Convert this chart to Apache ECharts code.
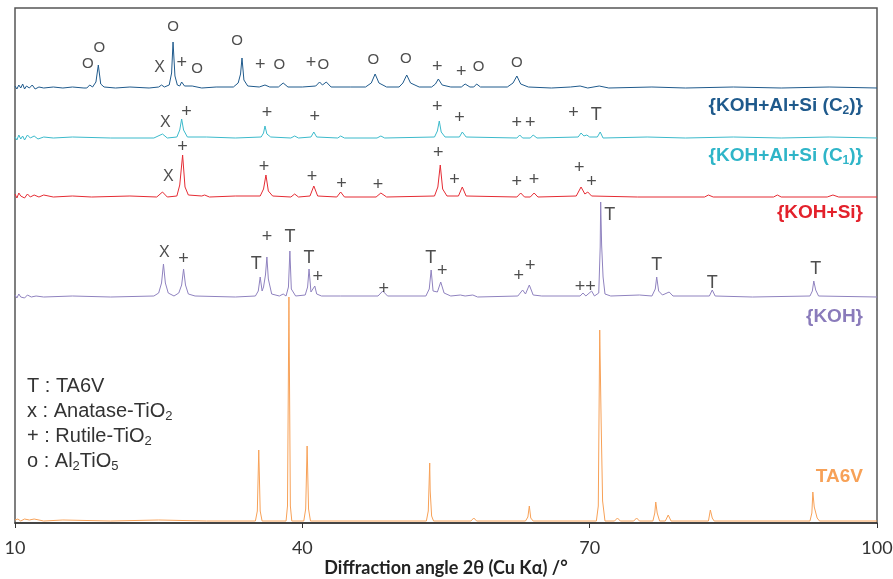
<!DOCTYPE html>
<html>
<head>
<meta charset="utf-8">
<title>XRD</title>
<script src="https://cdn.jsdelivr.net/npm/echarts@6/dist/echarts.min.js"></script>
<style>
    html, body { margin: 0; padding: 0; background: #fff; }
    #xrd { width: 893px; height: 579px; }
</style>
</head>
<body>
<div id="xrd"></div>
<script>
//  x ticks (2θ, °)
var xTicks = [10, 40, 70, 100];

//  trace names, top to bottom
var traceNames = ['KOH+Al+Si (C2)', 'KOH+Al+Si (C1)', 'KOH+Si', 'KOH', 'TA6V'];

//  vertical offset of each trace (arbitrary intensity units)
var traceOffsets = [435, 385, 326, 226, 2];

//  patterns: [2θ, intensity above its baseline]
var patC2 = [
    [10.0, 2], [10.2, -1], [10.4, 3], [10.6, 0], [10.8, 4], [11.0, -1], [11.2, 2], [11.5, 0], [11.8, 3], [12.1, -1], [12.5, 1], [13, 0], [14, 1], [15, 0], [16, 1], [17.2, 0],
    [17.5, 0], [17.8, 3], [18.1, 1], [18.45, 6], [18.7, 23], [18.95, 4], [19.3, 1], [20.5, 0], [22, 1], [24, 0],
    [25.0, 1], [25.3, 3], [25.6, 1], [26.1, 3], [26.35, 15], [26.5, 46], [26.7, 12], [26.95, 3], [27.2, 2], [27.4, 6], [27.7, 2], [28.5, 2], [29.5, 0], [31, 1], [32.8, 1],
    [33.3, 5], [33.55, 14], [33.7, 30], [33.9, 8], [34.3, 2], [35.5, 1], [36.1, 3], [36.6, 1], [37.5, 1], [38.0, 5], [38.5, 1], [40, 1], [41.4, 2], [41.8, 6], [42.1, 3], [42.5, 6], [43, 1], [45, 1], [46.6, 1],
    [47.2, 5], [47.6, 14], [48.0, 5], [48.8, 1], [50.1, 1], [50.5, 5], [50.9, 13], [51.3, 5], [52.2, 1], [53.5, 1], [53.9, 4], [54.2, 9], [54.6, 3], [55.5, 1], [56.6, 1], [57.0, 4], [57.5, 1], [57.9, 1], [58.2, 4], [58.6, 1],
    [61.4, 1], [62.0, 5], [62.4, 12], [62.8, 4], [63.6, 1], [66, 0], [68, 1], [69, 2], [69.8, 0], [71, 2], [72, 0], [76.5, 1], [80, 0], [85, 1], [90, 0], [95, 1], [100, 0]
];
var patC1 = [
    [10, 1], [10.2, -2], [10.4, 3], [10.6, -1], [10.8, 2], [11.0, -2], [11.3, 3], [11.6, 0], [12, 2], [12.4, -1], [13, 1], [14, 0], [16, 1], [20, 0], [24.5, 0], [25.4, 4], [25.9, 0],
    [26.9, 1], [27.2, 8], [27.4, 19], [27.6, 8], [28, 1], [30, 1], [33, 0], [35.7, 1], [35.95, 5], [36.1, 12], [36.3, 4], [36.7, 1], [38.8, 0], [39.2, 2], [39.6, 0], [40.9, 1], [41.2, 6], [41.5, 1],
    [43.7, 0], [44, 2], [44.4, 0], [47.8, 0], [48.2, 2], [48.6, 0], [53.8, 1], [54.1, 7], [54.3, 17], [54.5, 6], [54.9, 1], [56.4, 1], [56.7, 6], [57.1, 1], [62.4, 0], [62.7, 3], [63, 0],
    [63.8, 0], [64.1, 3], [64.5, 0], [68.8, 1], [69.1, 5], [69.4, 2], [69.7, 3], [70.0, 1], [70.8, 1], [71.1, 6], [71.4, 0], [76, 1], [80, 0], [85, 1], [90, 0], [95, 1], [100, 0]
];
var patKOHSi = [
    [10, 3], [10.2, -1], [10.4, 4], [10.6, 1], [10.8, 3], [11.0, -1], [11.3, 3], [11.6, 0], [12, 2], [12.5, 0], [13, 2], [14, 0], [16, 1], [18, 0], [22, 1], [24.8, 0], [25.4, 5], [25.9, 0],
    [26.9, 1], [27.2, 12], [27.5, 42], [27.75, 10], [28.1, 2], [29.5, 1], [29.8, 2], [30.3, 0], [33, 1], [35.6, 1], [35.95, 8], [36.2, 22], [36.45, 6], [36.9, 1], [38.8, 0], [39.2, 3], [39.6, 0],
    [40.8, 1], [41.2, 11], [41.6, 1], [43.6, 0], [44, 5], [44.4, 0], [47.7, 0], [48.2, 4], [48.8, 0], [53.8, 1], [54.15, 10], [54.4, 32], [54.65, 8], [55.1, 1], [56.3, 1], [56.7, 10], [57.1, 1],
    [62.4, 0], [62.8, 4], [63.2, 0], [63.8, 0], [64.2, 4], [64.6, 0], [68.6, 1], [69.1, 10], [69.5, 3], [69.8, 5], [70.2, 1], [75, 0], [82, 0], [82.4, 2], [82.9, 0], [89.2, 0], [89.6, 2], [90, 0],
    [94.8, 0], [95.4, 2], [96, 0], [100, 0]
];
var patKOH = [
    [10, 2], [10.2, -1], [10.4, 3], [10.6, 0], [10.8, 2], [11.0, -1], [11.3, 2], [11.7, 0], [12.2, 1], [13, 0], [16, 1], [20, 0], [24.5, 1], [25.0, 4], [25.3, 14], [25.5, 33], [25.7, 14], [26.0, 4],
    [26.6, 1], [27.1, 4], [27.4, 12], [27.6, 28], [27.8, 12], [28.1, 3], [28.8, 1], [33, 0], [35.1, 1], [35.4, 6], [35.6, 20], [35.8, 6], [35.95, 10], [36.15, 22], [36.3, 40], [36.45, 18], [36.8, 3],
    [37.6, 1], [38.0, 3], [38.3, 1], [38.55, 10], [38.7, 46], [38.85, 8], [39.3, 1], [40.3, 2], [40.55, 10], [40.7, 28], [40.9, 5], [41.1, 5], [41.3, 11], [41.5, 3], [42, 1], [44, 1], [47.9, 1], [48.4, 6], [48.9, 1],
    [52.9, 1], [53.25, 8], [53.45, 27], [53.65, 6], [54.1, 5], [54.45, 15], [54.8, 4], [55.5, 1], [56.5, 2], [57, 1], [57.8, 2], [58.3, 0], [62.5, 1], [63, 7], [63.3, 3], [63.7, 12], [64.1, 2], [65, 1],
    [69, 1], [69.3, 4], [69.6, 1], [70.2, 6], [70.5, 1], [70.95, 4], [71.1, 50], [71.15, 95], [71.25, 52], [71.4, 20], [71.6, 3], [72.2, 1], [75.2, 2], [76.5, 1], [76.85, 8], [77.0, 20], [77.2, 6], [77.6, 2],
    [78.3, 5], [78.7, 1], [82.5, 1], [82.8, 7], [83.1, 1], [87, 0], [93.0, 1], [93.25, 6], [93.4, 16], [93.6, 7], [93.9, 1], [100, 0]
];
var patTA6V = [
    [10, 1], [10.3, 2], [10.6, 0], [11, 2], [11.5, 1], [12, 2], [13, 0], [15, 1], [20, 0], [25, 1], [30, 0], [35.1, 0], [35.3, 10], [35.45, 71], [35.6, 10], [35.8, 0],
    [38.3, 0], [38.45, 15], [38.6, 224], [38.75, 15], [38.9, 0], [40.15, 0], [40.35, 12], [40.5, 75], [40.65, 12], [40.85, 0], [52.95, 0], [53.15, 10], [53.3, 58], [53.35, 30], [53.5, 5], [53.7, 0],
    [57.6, 0], [57.9, 3], [58.2, 0], [63.3, 0], [63.55, 4], [63.7, 15], [63.85, 3], [64.1, 0], [70.7, 0], [70.9, 15], [71.05, 191], [71.2, 98], [71.35, 20], [71.6, 0], [72.6, 0], [72.9, 3], [73.2, 0],
    [74.6, 0], [74.9, 3], [75.2, 0], [76.6, 0], [76.8, 8], [76.9, 19], [77.05, 8], [77.3, 0], [77.9, 0], [78.2, 6], [78.5, 0], [82.4, 0], [82.6, 11], [82.8, 3], [83, 0],
    [93.0, 0], [93.2, 8], [93.3, 29], [93.45, 14], [93.55, 16], [93.75, 3], [94, 0], [100, 0]
];
var patterns = [patC2, patC1, patKOHSi, patKOH, patTA6V];

//  phase marks: [2θ, height above baseline, mark]
var marksC2 = [
    [17.6, 24, 'O'], [18.8, 40, 'O'], [25.1, 20, 'X'], [26.5, 61, 'O'], [27.4, 25, '+'], [29.0, 19, 'O'], [33.2, 47, 'O'], [35.6, 23, '+'], [37.6, 23, 'O'],
    [40.9, 25, '+'], [42.2, 23, 'O'], [47.4, 28, 'O'], [50.8, 29, 'O'], [54.1, 21, '+'], [56.6, 16, '+'], [58.4, 21, 'O'], [62.4, 25, 'O']
];
var marksC1 = [
    [25.7, 15, 'X'], [27.9, 26, '+'], [36.3, 25, '+'], [41.3, 21, '+'], [54.1, 31, '+'], [56.4, 20, '+'], [62.4, 15, '+'], [63.8, 15, '+'], [68.3, 25, '+'], [70.7, 23, 'T']
];
var marksKOHSi = [
    [26.0, 20, 'X'], [27.5, 50, '+'], [36.0, 30, '+'], [41.0, 20, '+'], [44.1, 13, '+'], [47.9, 12, '+'], [54.2, 44, '+'], [55.9, 17, '+'], [62.4, 15, '+'], [64.2, 17, '+'], [68.9, 29, '+'], [70.2, 15, '+']
];
var marksKOH = [
    [25.6, 44, 'X'], [27.6, 38, '+'], [35.2, 33, 'T'], [36.3, 60, '+'], [38.7, 60, 'T'], [40.7, 39, 'T'], [41.6, 20, '+'], [48.5, 8, '+'], [53.4, 39, 'T'], [54.6, 26, '+'],
    [62.6, 21, '+'], [63.8, 31, '+'], [69.0, 10, '+'], [70.1, 10, '+'], [72.1, 82, 'T'], [77.0, 32, 'T'], [82.8, 14, 'T'], [93.6, 28, 'T']
];
var marks = [marksC2, marksC1, marksKOHSi, marksKOH, []];

var colors = ['#1f5a8c', '#3bbacb', '#e52b33', '#8f82bf', '#f7a157'];
var markSizes = { 'T': 18, 'O': 15, 'X': 16, '+': 18 };

var xrdChart = echarts.init(document.getElementById('xrd'));

var series = [];
var markData = [];
for (var i = 0; i < patterns.length; i++) {
    series.push({
        name: traceNames[i],
        type: 'line',
        showSymbol: false,
        silent: true,
        data: patterns[i].map(function (p) { return [p[0], p[1] + traceOffsets[i]]; }),
        lineStyle: { color: colors[i], width: 1 },
        z: 2
    });
    marks[i].forEach(function (m) {
        markData.push({
            value: [m[0], m[1] + traceOffsets[i], m[2]],
            label: { fontSize: markSizes[m[2]] }
        });
    });
}
series.push({
    name: 'marks',
    type: 'scatter',
    symbolSize: 0,
    silent: true,
    data: markData,
    label: {
        show: true,
        position: 'inside',
        color: '#222',
        fontFamily: 'Liberation Sans',
        formatter: function (p) { return p.data.value[2]; }
    },
    z: 5
});

var subRich = {
    b: { fontSize: 19, fontWeight: 'bold', fontFamily: 'Liberation Sans' },
    s: { fontSize: 12, fontWeight: 'bold', fontFamily: 'Liberation Sans', padding: [10, 0, 0, 0] },
    n: { fontSize: 20, fontFamily: 'Liberation Sans' },
    ns: { fontSize: 13, fontFamily: 'Liberation Sans', padding: [11, 0, 0, 0] }
};

function sideLabel(text, y, color) {
    return {
        type: 'text',
        right: 30,
        top: y - 12,
        style: {
            text: text,
            fill: color,
            font: 'bold 19px "Liberation Sans"',
            rich: subRich
        },
        z: 10
    };
}

function keyLabel(text, y) {
    return {
        type: 'text',
        left: 27,
        top: y - 12,
        style: {
            text: text,
            fill: '#333',
            font: '20px "Liberation Sans"',
            rich: subRich
        },
        z: 10
    };
}

var option = {
    animation: false,
    grid: {
        show: true,
        left: 15,
        right: 16,
        top: 8,
        bottom: 56,
        outerBoundsMode: 'none',
        borderColor: '#555',
        borderWidth: 1.5
    },
    xAxis: {
        type: 'value',
        min: 10,
        max: 100,
        name: 'Diffraction angle 2θ (Cu Kα) /°',
        nameLocation: 'middle',
        nameGap: 36,
        nameMoveOverlap: false,
        nameTextStyle: { fontFamily: 'Lato', fontWeight: 'bold', fontSize: 18, color: '#222' },
        axisLine: { lineStyle: { color: '#333', width: 1.5 } },
        axisTick: { customValues: xTicks, length: 5, lineStyle: { color: '#333' } },
        axisLabel: { customValues: xTicks, fontFamily: 'Lato', fontSize: 18, color: '#333', margin: 16 },
        splitLine: { show: false }
    },
    yAxis: {
        type: 'value',
        min: 0,
        max: 515,
        show: false
    },
    graphic: [
        sideLabel('{b|{KOH+Al+Si (C}{s|2}{b|)}}', 108, '#1f5a8c'),
        sideLabel('{b|{KOH+Al+Si (C}{s|1}{b|)}}', 158, '#2fb5c8'),
        sideLabel('{KOH+Si}', 215, '#e3212b'),
        sideLabel('{KOH}', 319, '#8a7bbb'),
        sideLabel('TA6V', 479, '#f7a157'),
        keyLabel('{n|T : TA6V}', 388),
        keyLabel('{n|x : Anatase-TiO}{ns|2}', 413),
        keyLabel('{n|+ : Rutile-TiO}{ns|2}', 438),
        keyLabel('{n|o : Al}{ns|2}{n|TiO}{ns|5}', 463)
    ],
    series: series
};
xrdChart.setOption(option);

window.addEventListener('resize', function () {
    xrdChart.resize();
});
</script>
</body>
</html>
